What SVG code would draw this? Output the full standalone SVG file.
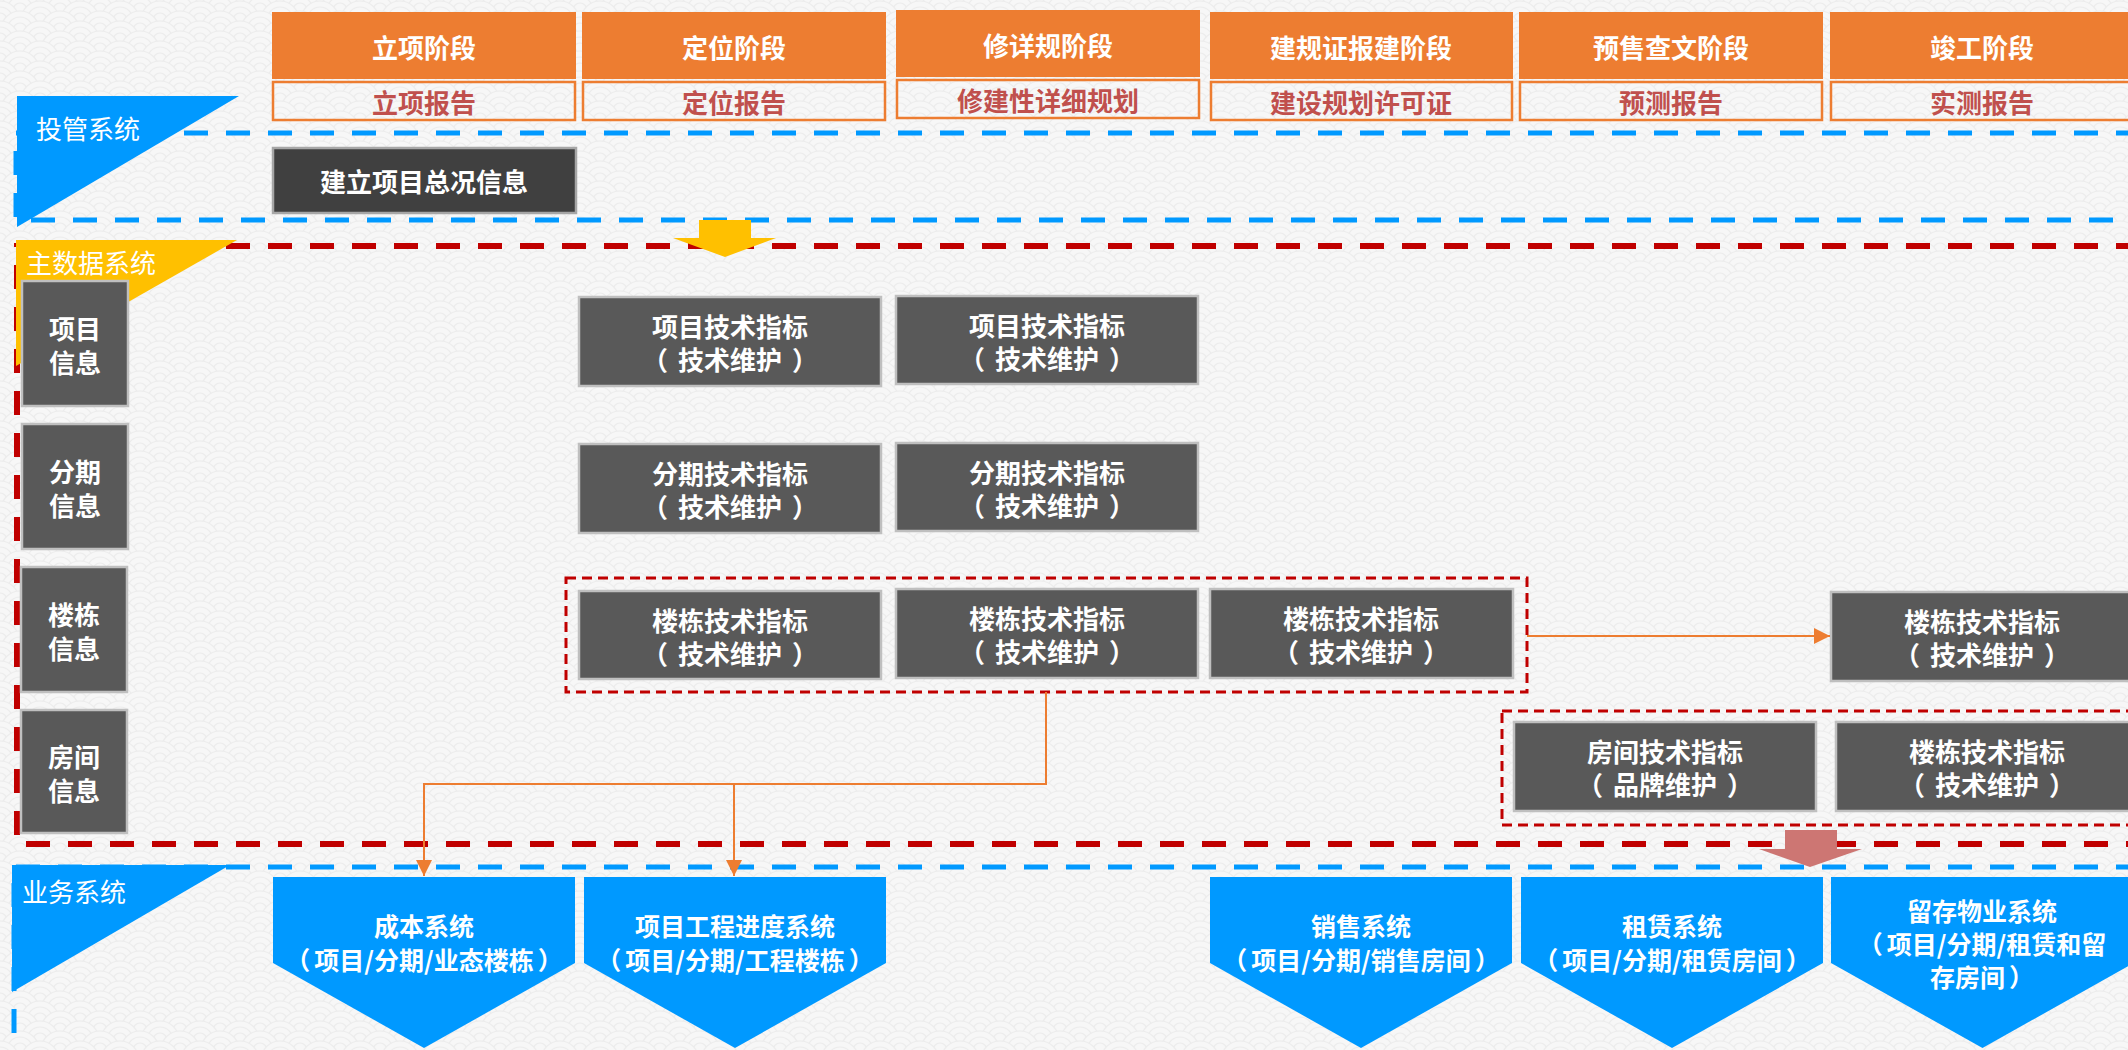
<svg xmlns="http://www.w3.org/2000/svg" width="2128" height="1050" viewBox="0 0 2128 1050">
<style>
text{font-family:"Noto Sans CJK SC","Noto Sans",sans-serif;text-anchor:middle;dominant-baseline:central;}
.hdr{fill:#ED7D31;}
.hdrt{fill:#fff;font-size:26px;font-weight:700;}
.rep{fill:none;stroke:#ED7D31;stroke-width:2.5;}
.rept{fill:#C0504D;font-size:26px;font-weight:700;}
.dk{fill:#595959;stroke:#BFBFBF;stroke-width:2.5;}
.dkt{fill:#fff;font-size:26px;font-weight:700;}
.pent{fill:#0099FF;}
.pt{fill:#fff;font-size:25px;font-weight:700;}
.lbl{fill:#fff;font-size:26px;font-weight:400;text-anchor:start;}
.bd{fill:none;stroke:#0099FF;stroke-width:5;stroke-dasharray:24 18;}
.rd{fill:none;stroke:#C00000;stroke-width:6;stroke-dasharray:24 18;}
.rds{fill:none;stroke:#C00000;stroke-width:3;stroke-dasharray:10 6;}
.con{fill:none;stroke:#ED7D31;stroke-width:2;}
</style>
<defs>
<pattern id="bgp" width="40" height="20" patternUnits="userSpaceOnUse">
<rect width="40" height="20" fill="#F7F7F7"/>
<g fill="#F7F7F7" stroke="#ECECEC" stroke-width="1.2">
<g transform="translate(20,-10)"><circle r="19"/><circle r="13"/><circle r="7"/></g>
<g transform="translate(0,0)"><circle r="19"/><circle r="13"/><circle r="7"/></g>
<g transform="translate(40,0)"><circle r="19"/><circle r="13"/><circle r="7"/></g>
<g transform="translate(20,10)"><circle r="19"/><circle r="13"/><circle r="7"/></g>
<g transform="translate(0,20)"><circle r="19"/><circle r="13"/><circle r="7"/></g>
<g transform="translate(40,20)"><circle r="19"/><circle r="13"/><circle r="7"/></g>
<g transform="translate(20,30)"><circle r="19"/><circle r="13"/><circle r="7"/></g>
</g>
</pattern>
<marker id="ah" viewBox="0 0 16 16" refX="16" refY="8" markerWidth="16" markerHeight="16" markerUnits="userSpaceOnUse" orient="auto">
<path d="M0,0 L16,8 L0,16 z" fill="#ED7D31"/>
</marker>
</defs>
<rect width="2128" height="1050" fill="url(#bgp)"/>

<!-- system region dashed frames -->
<g id="frames">
<path class="bd" d="M2140,133 H16 V220 H2140"/>
<path class="rd" d="M2140,246 H17 V844 H2140"/>
<path class="bd" d="M2140,867 H14 V1060"/>
</g>

<!-- system labels -->
<g id="lbl-touguan">
<polygon points="17,96 239,96 17,227" fill="#0099FF"/>
<text class="lbl" x="36" y="127">投管系统</text>
</g>
<g id="lbl-master">
<polygon points="16,240 237,240 16,366" fill="#FFC000"/>
<text class="lbl" x="26" y="261">主数据系统</text>
</g>
<g id="lbl-business">
<polygon points="12,865 230,865 12,992" fill="#0099FF"/>
<text class="lbl" x="22" y="890">业务系统</text>
</g>

<!-- stage headers -->
<g id="stage1"><rect class="hdr" x="272" y="12" width="304" height="67"/><text class="hdrt" x="424" y="46">立项阶段</text>
<rect class="rep" x="273" y="82" width="302" height="38"/><text class="rept" x="424" y="101">立项报告</text></g>
<g id="stage2"><rect class="hdr" x="582" y="12" width="304" height="67"/><text class="hdrt" x="734" y="46">定位阶段</text>
<rect class="rep" x="583" y="82" width="302" height="38"/><text class="rept" x="734" y="101">定位报告</text></g>
<g id="stage3"><rect class="hdr" x="896" y="10" width="304" height="67"/><text class="hdrt" x="1048" y="44">修详规阶段</text>
<rect class="rep" x="897" y="80" width="302" height="38"/><text class="rept" x="1048" y="99">修建性详细规划</text></g>
<g id="stage4"><rect class="hdr" x="1210" y="12" width="303" height="67"/><text class="hdrt" x="1361" y="46">建规证报建阶段</text>
<rect class="rep" x="1211" y="82" width="301" height="38"/><text class="rept" x="1361" y="101">建设规划许可证</text></g>
<g id="stage5"><rect class="hdr" x="1519" y="12" width="304" height="67"/><text class="hdrt" x="1671" y="46">预售查文阶段</text>
<rect class="rep" x="1520" y="82" width="302" height="38"/><text class="rept" x="1671" y="101">预测报告</text></g>
<g id="stage6"><rect class="hdr" x="1830" y="12" width="304" height="67"/><text class="hdrt" x="1982" y="46">竣工阶段</text>
<rect class="rep" x="1831" y="82" width="302" height="38"/><text class="rept" x="1982" y="101">实测报告</text></g>

<!-- investment system node -->
<g id="n-overview"><rect x="273" y="148" width="303" height="65" fill="#404040" stroke="#A6A6A6" stroke-width="2.5"/><text class="dkt" x="424" y="180">建立项目总况信息</text></g>

<!-- flow arrows -->
<g id="arrow-yellow"><polygon points="699,220 751,220 751,238 776,238 725,257 673,238 699,238" fill="#FFC000"/></g>
<g id="arrow-pink"><polygon points="1785,830 1837,830 1837,849 1862,849 1810,867 1759,849 1785,849" fill="#CD7673"/></g>

<!-- left category boxes -->
<g id="cat-project"><rect class="dk" x="22" y="281" width="106" height="125"/><text class="dkt" x="75" y="327">项目</text><text class="dkt" x="75" y="361">信息</text></g>
<g id="cat-phase"><rect class="dk" x="22" y="424" width="106" height="125"/><text class="dkt" x="75" y="470">分期</text><text class="dkt" x="75" y="504">信息</text></g>
<g id="cat-building"><rect class="dk" x="21" y="567" width="106" height="125"/><text class="dkt" x="74" y="613">楼栋</text><text class="dkt" x="74" y="647">信息</text></g>
<g id="cat-room"><rect class="dk" x="21" y="710" width="106" height="123"/><text class="dkt" x="74" y="755">房间</text><text class="dkt" x="74" y="789">信息</text></g>

<!-- dashed groupings -->
<g id="grp-building"><rect class="rds" x="566" y="578" width="961" height="114"/></g>
<g id="grp-room"><rect class="rds" x="1502" y="711" width="660" height="114"/></g>

<!-- master data nodes -->
<g id="p1"><rect class="dk" x="579" y="297" width="302" height="89"/><text class="dkt" x="730" y="325">项目技术指标</text><text class="dkt" x="730" y="358">（<tspan dx="10">技术维护</tspan><tspan dx="10">）</tspan></text></g>
<g id="p2"><rect class="dk" x="896" y="296" width="302" height="88"/><text class="dkt" x="1047" y="324">项目技术指标</text><text class="dkt" x="1047" y="357">（<tspan dx="10">技术维护</tspan><tspan dx="10">）</tspan></text></g>
<g id="f1"><rect class="dk" x="579" y="444" width="302" height="89"/><text class="dkt" x="730" y="472">分期技术指标</text><text class="dkt" x="730" y="505">（<tspan dx="10">技术维护</tspan><tspan dx="10">）</tspan></text></g>
<g id="f2"><rect class="dk" x="896" y="443" width="302" height="88"/><text class="dkt" x="1047" y="471">分期技术指标</text><text class="dkt" x="1047" y="504">（<tspan dx="10">技术维护</tspan><tspan dx="10">）</tspan></text></g>
<g id="b1"><rect class="dk" x="579" y="591" width="302" height="88"/><text class="dkt" x="730" y="619">楼栋技术指标</text><text class="dkt" x="730" y="652">（<tspan dx="10">技术维护</tspan><tspan dx="10">）</tspan></text></g>
<g id="b2"><rect class="dk" x="896" y="589" width="302" height="89"/><text class="dkt" x="1047" y="617">楼栋技术指标</text><text class="dkt" x="1047" y="650">（<tspan dx="10">技术维护</tspan><tspan dx="10">）</tspan></text></g>
<g id="b3"><rect class="dk" x="1210" y="589" width="303" height="89"/><text class="dkt" x="1361" y="617">楼栋技术指标</text><text class="dkt" x="1361" y="650">（<tspan dx="10">技术维护</tspan><tspan dx="10">）</tspan></text></g>
<g id="b4"><rect class="dk" x="1831" y="592" width="304" height="89"/><text class="dkt" x="1982" y="620">楼栋技术指标</text><text class="dkt" x="1982" y="653">（<tspan dx="10">技术维护</tspan><tspan dx="10">）</tspan></text></g>
<g id="r1"><rect class="dk" x="1514" y="722" width="302" height="89"/><text class="dkt" x="1665" y="750">房间技术指标</text><text class="dkt" x="1665" y="783">（<tspan dx="10">品牌维护</tspan><tspan dx="10">）</tspan></text></g>
<g id="r2"><rect class="dk" x="1836" y="722" width="304" height="89"/><text class="dkt" x="1987" y="750">楼栋技术指标</text><text class="dkt" x="1987" y="783">（<tspan dx="10">技术维护</tspan><tspan dx="10">）</tspan></text></g>

<!-- business systems -->
<g id="s-cost"><polygon class="pent" points="273,877 575,877 575,963 424,1048 273,963"/><text class="pt" x="424" y="925">成本系统</text><text class="pt" x="424" y="959">（<tspan dx="4">项目/分期/业态楼栋</tspan><tspan dx="4">）</tspan></text></g>
<g id="s-progress"><polygon class="pent" points="584,877 886,877 886,963 735,1048 584,963"/><text class="pt" x="735" y="925">项目工程进度系统</text><text class="pt" x="735" y="959">（<tspan dx="4">项目/分期/工程楼栋</tspan><tspan dx="4">）</tspan></text></g>
<g id="s-sales"><polygon class="pent" points="1210,877 1512,877 1512,963 1361,1048 1210,963"/><text class="pt" x="1361" y="925">销售系统</text><text class="pt" x="1361" y="959">（<tspan dx="4">项目/分期/销售房间</tspan><tspan dx="4">）</tspan></text></g>
<g id="s-lease"><polygon class="pent" points="1521,877 1823,877 1823,963 1672,1048 1521,963"/><text class="pt" x="1672" y="925">租赁系统</text><text class="pt" x="1672" y="959">（<tspan dx="4">项目/分期/租赁房间</tspan><tspan dx="4">）</tspan></text></g>
<g id="s-retain"><polygon class="pent" points="1831,877 2134,877 2134,963 1982.5,1048 1831,963"/><text class="pt" x="1982" y="910">留存物业系统</text><text class="pt" x="1982" y="943">（<tspan dx="4">项目/分期/租赁和留</tspan></text><text class="pt" x="1982" y="976">存房间<tspan dx="4">）</tspan></text></g>

<!-- connectors -->
<g id="connectors">
<path class="con" d="M1046,692 V784 H424 V876" marker-end="url(#ah)"/>
<path class="con" d="M734,784 V876" marker-end="url(#ah)"/>
<path class="con" d="M1527,636 H1830" marker-end="url(#ah)"/>
</g>
</svg>
